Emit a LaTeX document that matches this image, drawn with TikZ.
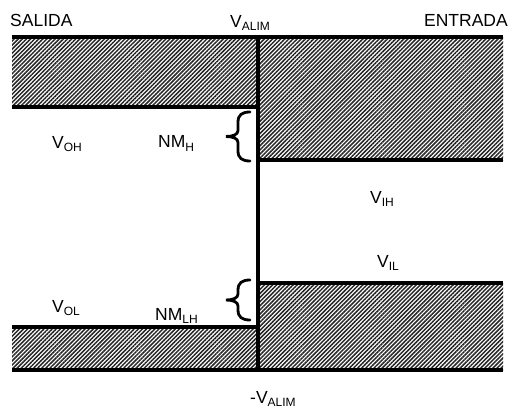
\documentclass[tikz,border=0pt]{standalone}
\usepackage{fontspec}
\setmainfont{Liberation Sans}
\usetikzlibrary{patterns.meta}

\newcommand{\lowsub}[1]{\raisebox{-3pt}{\fontsize{12}{12}\selectfont #1}}

\begin{document}
\begin{tikzpicture}[
x=1pt, y=-1pt,
lbl/.style={font=\fontsize{17.5}{21}\selectfont, inner sep=0pt, anchor=base west},
level/.style={line width=3.5pt},
hatch/.style={pattern={Lines[angle=45, distance=2.9pt, line width=1.5pt]}, pattern color=black!85},
bracepath/.style={line width=2.8pt, line cap=round},
pics/curly/.style={code={
  \draw[bracepath] (24,-#1) .. controls (16,-#1) and (12,{-#1+3}) .. (12,{-#1+10})
    -- (12,-6) .. controls (12,-2) and (7,0) .. (0,0)
    .. controls (7,0) and (12,2) .. (12,6)
    -- (12,{#1-10}) .. controls (12,{#1-3}) and (16,#1) .. (24,#1);}}
]
\useasboundingbox (0,0) rectangle (513,414);

% hatched bands
\fill[hatch] (12,37) rectangle (258,107);
\fill[hatch] (258,37) rectangle (503,160);
\fill[hatch] (258,283) rectangle (503,370);
\fill[hatch] (12,327) rectangle (258,370);

% levels
\draw[level] (12,37) -- (503,37);
\draw[level] (12,107) -- (258,107);
\draw[level] (258,160) -- (503,160);
\draw[level] (258,283) -- (503,283);
\draw[level] (12,327) -- (258,327);
\draw[level] (12,370) -- (503,370);
\draw[level] (258,37) -- (258,370);

% noise margin braces
\pic at (226,136.5) {curly=24.5};
\pic at (226,300) {curly=20};

% labels
\node[lbl] (salida) at (10,27) {SALIDA};
\node[lbl] (valim) at (230,28) {V\lowsub{ALIM}};
\node[lbl, anchor=base east] (entrada) at (508,27) {ENTRADA};
\node[lbl] (voh) at (52,149) {V\lowsub{OH}};
\node[lbl] (nmh) at (158,148) {NM\lowsub{H}};
\node[lbl] (vih) at (370,203) {V\lowsub{IH}};
\node[lbl] (vil) at (377,267) {V\lowsub{IL}};
\node[lbl] (vol) at (52,312) {V\lowsub{OL}};
\node[lbl] (nmlh) at (155,320) {NM\lowsub{LH}};
\node[lbl] (mvalim) at (250,403) {-V\lowsub{ALIM}};
\end{tikzpicture}
\end{document}
